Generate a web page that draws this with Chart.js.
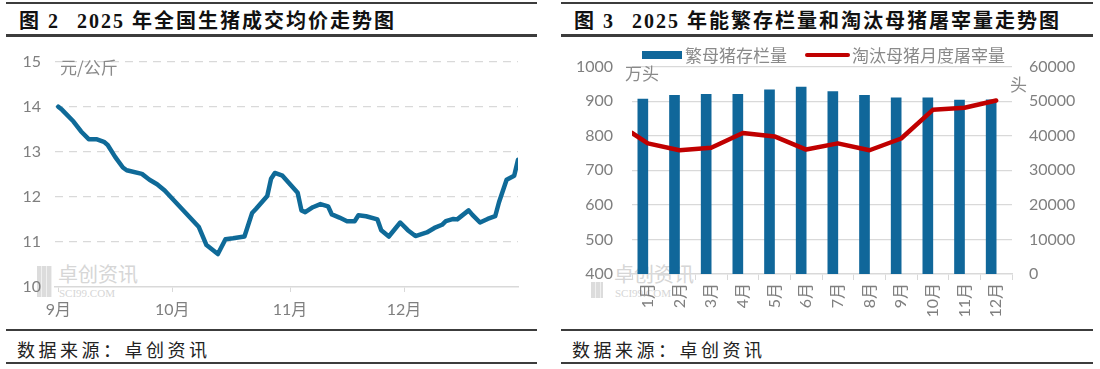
<!DOCTYPE html>
<html><head><meta charset="utf-8">
<script src="https://cdn.jsdelivr.net/npm/chart.js@4.4.1/dist/chart.umd.min.js"></script>
<style>
body{margin:0;background:#fff;width:1100px;height:369px;position:relative;overflow:hidden;font-family:"Noto Sans CJK SC",sans-serif;}
.rule{position:absolute;height:2px;background:#3c3c3c;}
.t{position:absolute;white-space:nowrap;line-height:24px;}
.title{font-family:"Liberation Serif","Noto Sans CJK SC",serif;font-weight:bold;font-size:20px;letter-spacing:2px;color:#111;top:9px;}
.foot{font-family:"Noto Sans CJK SC",sans-serif;font-size:18px;letter-spacing:3.5px;color:#222;top:337px;}
.unit{font-family:"Noto Sans CJK SC",sans-serif;font-size:17px;color:#8a8a8a;line-height:20px;}
.wm{position:absolute;color:#d6d6d6;white-space:nowrap;}
.cv{position:absolute;}
.lg{position:absolute;font-size:17px;color:#8a8a8a;line-height:20px;white-space:nowrap;}
</style></head>
<body>
<!-- left panel frame -->
<div class="rule" style="left:6px;width:531px;top:2px;"></div>
<div class="rule" style="left:6px;width:531px;top:34px;height:2.5px;"></div>
<div class="rule" style="left:6px;width:531px;top:329px;"></div>
<div class="rule" style="left:6px;width:531px;top:362px;"></div>
<div class="t title" style="left:19px;">图 2</div>
<div class="t title" style="left:77px;">2025 年全国生猪成交均价走势图</div>
<div class="t foot" style="left:17px;">数据来源：卓创资讯</div>
<!-- right panel frame -->
<div class="rule" style="left:561px;width:532px;top:2px;"></div>
<div class="rule" style="left:561px;width:532px;top:34px;height:2.5px;"></div>
<div class="rule" style="left:561px;width:532px;top:329px;"></div>
<div class="rule" style="left:561px;width:532px;top:362px;"></div>
<div class="t title" style="left:574px;">图 3</div>
<div class="t title" style="left:632px;">2025 年能繁存栏量和淘汰母猪屠宰量走势图</div>
<div class="t foot" style="left:572px;">数据来源：卓创资讯</div>

<!-- watermarks -->
<div class="wm" style="left:37px;top:266px;width:15px;height:31px;background:repeating-linear-gradient(90deg,#dcdcdc 0 4px,#f0f0f0 4px 5px);"></div>
<div class="wm" style="left:58px;top:262px;font-size:20px;line-height:24px;">卓创资讯</div>
<div class="wm" style="left:59px;top:287px;font-size:11px;line-height:12px;font-family:'Liberation Serif',serif;">SCI99.COM</div>
<div class="wm" style="left:591px;top:282px;width:12px;height:16px;background:repeating-linear-gradient(90deg,#dcdcdc 0 4px,#f0f0f0 4px 5px);"></div>
<div class="wm" style="left:614px;top:262px;font-size:20px;line-height:24px;">卓创资讯</div>
<div class="wm" style="left:615px;top:287px;font-size:11px;line-height:12px;font-family:'Liberation Serif',serif;">SCI99.COM</div>

<div class="cv" style="left:6px;top:38px;"><canvas id="c1" width="531" height="292"></canvas></div>
<div class="cv" style="left:561px;top:38px;"><canvas id="c2" width="532" height="292"></canvas></div>

<div class="t unit" style="left:60px;top:57px;">元/公斤</div>
<div class="t unit" style="left:625px;top:63px;">万头</div>
<div class="t unit" style="left:1010px;top:74px;">头</div>

<!-- legend of right chart -->
<div class="lg" style="left:642px;top:51px;width:40px;height:8px;background:#10679a;"></div>
<div class="lg" style="left:685px;top:45px;">繁母猪存栏量</div>
<div class="lg" style="left:805px;top:53px;width:45px;height:4px;background:#c00000;border-radius:2px;"></div>
<div class="lg" style="left:852px;top:45px;">淘汰母猪月度屠宰量</div>

<script>
// ---------- Figure 2: national live hog average price (元/公斤) ----------
// day offset from 1 Sep 2025
const priceDays = [0,1,4,6,8,10,12,13,15,17,18,22,24,26,28,37,39,42,44,46,49,51,52,55,56,57,59,63,64,65,67,69,71,72,74,76,78,79,81,84,85,87,90,92,94,97,99,101,102,104,105,108,109,111,113,115,116,118,120,121];
const priceValues = [14.00,13.93,13.67,13.45,13.28,13.28,13.22,13.15,12.88,12.65,12.59,12.51,12.38,12.28,12.14,11.33,10.93,10.73,11.06,11.08,11.12,11.64,11.73,12.02,12.40,12.53,12.47,12.09,11.70,11.66,11.77,11.84,11.79,11.61,11.54,11.46,11.46,11.59,11.57,11.50,11.26,11.12,11.43,11.26,11.13,11.21,11.31,11.38,11.46,11.51,11.50,11.70,11.60,11.43,11.51,11.57,11.88,12.38,12.47,12.82];
const monthTickDays = [0,30,61,91];
const monthTickLabels = ['9月','10月','11月','12月'];

// ---------- Figure 3: breeding sow inventory & culled sow slaughter ----------
const months = ['1月','2月','3月','4月','5月','6月','7月','8月','9月','10月','11月','12月'];
const sowInventory = [906,917,920,920,933,941,928,917,910,910,903,904];      // 万头
const cullStartValue = 40800;                                                  // value at left edge of plot
const cullSlaughter = [37800,35800,36500,40800,39800,36000,37800,35800,39200,47500,48100,50200]; // 头

const GRAY = '#7f7f7f';
const GRID = '#d9d9d9';
const numFont = {family:"Lato, 'Noto Sans CJK SC', sans-serif", size:16};
const plain = v => String(v);

new Chart(document.getElementById('c1'), {
  type:'line',
  data:{datasets:[{
    data: priceDays.map((d,i)=>({x:d,y:priceValues[i]})),
    borderColor:'#0f6a98', borderWidth:4.5, pointRadius:0, tension:0,
    borderJoinStyle:'round', borderCapStyle:'round'
  }]},
  options:{
    responsive:false, animation:false, devicePixelRatio:1,
    layout:{padding:{top:19,right:19,left:0,bottom:0}},
    plugins:{legend:{display:false},tooltip:{enabled:false}},
    scales:{
      x:{type:'linear',min:-0.87,max:121,
        afterBuildTicks:s=>{s.ticks=monthTickDays.map(v=>({value:v}));},
        afterFit:s=>{s.height=43;},
        ticks:{autoSkip:false,maxRotation:0,color:GRAY,font:{...numFont,size:16},padding:8,
          callback:v=>monthTickLabels[monthTickDays.indexOf(v)]},
        grid:{display:true,drawOnChartArea:false,drawTicks:true,tickLength:5,color:GRID},
        border:{display:true,color:GRID,width:1.5}
      },
      y:{min:10,max:15,
        afterFit:s=>{s.width=49;},
        ticks:{stepSize:1,color:GRAY,font:numFont,padding:14,callback:plain},
        grid:{drawTicks:false,color:c=>c.tick&&c.tick.value===10?'rgba(0,0,0,0)':GRID,lineWidth:1.3},
        border:{display:false,dash:[8,6]}
      }
    }
  }
});

new Chart(document.getElementById('c2'), {
  data:{
    labels: months,
    datasets:[
      {type:'bar',label:'繁母猪存栏量',data:sowInventory,backgroundColor:'#10679a',
        barThickness:10,xAxisID:'x',yAxisID:'y',order:2},
      {type:'line',label:'淘汰母猪月度屠宰量',
        data:[{x:-0.5,y:cullStartValue}].concat(cullSlaughter.map((v,i)=>({x:i,y:v}))),
        borderColor:'#c00000',borderWidth:4.5,pointRadius:0,tension:0,
        borderJoinStyle:'round',borderCapStyle:'round',xAxisID:'x2',yAxisID:'y2',order:1}
    ]
  },
  options:{
    responsive:false, animation:false, devicePixelRatio:1,
    layout:{padding:{top:17,right:0,left:0,bottom:0}},
    plugins:{legend:{display:false},tooltip:{enabled:false}},
    scales:{
      x:{type:'category',offset:true,
        afterFit:s=>{s.height=56;},
        ticks:{autoSkip:false,minRotation:90,maxRotation:90,color:GRAY,font:{...numFont,size:16},padding:3},
        grid:{display:true,offset:true,drawOnChartArea:false,drawTicks:true,tickLength:6,color:GRID},
        border:{display:true,color:GRID,width:1.5}
      },
      x2:{type:'linear',display:false,min:-0.5,max:11.5},
      y:{position:'left',min:400,max:1000,
        afterFit:s=>{s.width=71;},
        ticks:{stepSize:100,color:GRAY,font:numFont,padding:19,callback:plain},
        grid:{drawTicks:false,color:c=>c.tick&&c.tick.value===400?'rgba(0,0,0,0)':GRID,lineWidth:1.3},
        border:{display:false}
      },
      y2:{position:'right',min:0,max:60000,
        afterFit:s=>{s.width=81;},
        ticks:{stepSize:10000,color:GRAY,font:numFont,padding:17,callback:plain},
        grid:{drawOnChartArea:false,drawTicks:false},
        border:{display:false}
      }
    }
  }
});
</script>
</body></html>
